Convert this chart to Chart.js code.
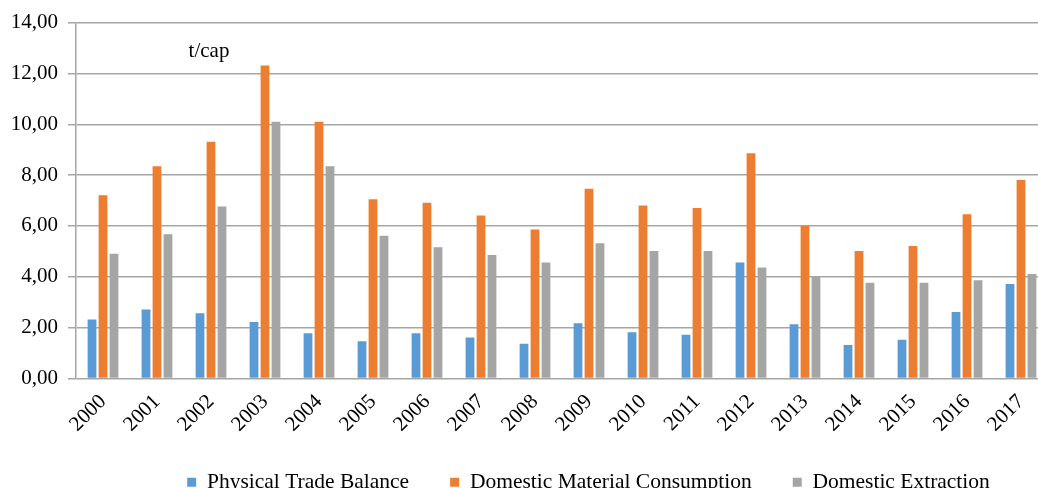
<!DOCTYPE html>
<html>
<head>
<meta charset="utf-8">
<script src="https://cdn.jsdelivr.net/npm/chart.js@4"></script>
<style>
  html, body { margin: 0; padding: 0; overflow: hidden; background: #fff; }
  #wrap { width: 1177px; height: 513px; }
</style>
</head>
<body>
<div id="wrap"><canvas id="chart" width="1177" height="513"></canvas></div>
<script>
const years = ['2000', '2001', '2002', '2003', '2004', '2005', '2006', '2007', '2008',
  '2009', '2010', '2011', '2012', '2013', '2014', '2015', '2016', '2017'];
const tradeBalance = [2.32, 2.71, 2.57, 2.22, 1.78, 1.47, 1.78, 1.61, 1.37,
  2.17, 1.82, 1.72, 4.56, 2.13, 1.32, 1.52, 2.62, 3.72];
const materialConsumption = [7.21, 8.35, 9.31, 12.31, 10.10, 7.05, 6.91, 6.41, 5.86,
  7.46, 6.81, 6.71, 8.86, 6.00, 5.02, 5.21, 6.46, 7.81];
const domesticExtraction = [4.91, 5.67, 6.77, 10.10, 8.35, 5.62, 5.16, 4.86, 4.56,
  5.32, 5.02, 5.02, 4.37, 4.00, 3.77, 3.77, 3.86, 4.11];
const seriesNames = ['Physical Trade Balance', 'Domestic Material Consumption', 'Domestic Extraction'];
const unitLabel = 't/cap';

const font = 'Liberation Serif, Times New Roman, serif';
const gridColor = '#a6a6a6';

// unit label inside the plot
const unitPlugin = {
  id: 'unitLabel',
  afterDraw(chart) {
    const ctx = chart.ctx;
    const y = chart.scales.y;
    ctx.save();
    ctx.font = '21px ' + font;
    ctx.fillStyle = '#000';
    ctx.textAlign = 'center';
    ctx.textBaseline = 'middle';
    ctx.fillText(unitLabel, chart.chartArea.left + 133, y.getPixelForValue(12.85));
    ctx.restore();
  }
};

// legend sits a bit higher, overlapping the empty space under the year labels
const legendShift = {
  id: 'legendShift',
  afterLayout(chart) {
    chart.legend.top -= 10;
    chart.legend.bottom -= 10;
  }
};

new Chart(document.getElementById('chart'), {
  type: 'bar',
  data: {
    labels: years,
    datasets: [
      { label: seriesNames[0], data: tradeBalance, backgroundColor: '#5B9BD5' },
      { label: seriesNames[1], data: materialConsumption, backgroundColor: '#ED7D31' },
      { label: seriesNames[2], data: domesticExtraction, backgroundColor: '#A5A5A5' }
    ]
  },
  options: {
    responsive: false,
    animation: false,
    categoryPercentage: 0.61,
    barPercentage: 0.8,
    layout: { padding: { top: 12, left: 0, right: 0, bottom: 0 } },
    plugins: {
      tooltip: { enabled: false },
      legend: {
        position: 'bottom',
        labels: {
          boxWidth: 9,
          boxHeight: 9,
          padding: 41,
          color: '#000',
          font: { family: font, size: 21.5 }
        }
      }
    },
    scales: {
      x: {
        grid: { display: false },
        border: { display: false },
        ticks: {
          minRotation: 45,
          maxRotation: 45,
          color: '#000',
          font: { family: font, size: 21 }
        },
        afterFit: s => { s.height = 62; }
      },
      y: {
        min: 0,
        max: 14,
        grid: { color: gridColor, lineWidth: 1.5, tickLength: 8 },
        border: { color: gridColor, width: 1.5 },
        ticks: {
          stepSize: 2,
          padding: 10,
          color: '#000',
          font: { family: font, size: 21 },
          callback: v => v.toFixed(2).replace('.', ',')
        },
        afterFit: s => { s.width = 76; }
      },
      yR: {
        position: 'right',
        grid: { display: false },
        border: { display: false },
        ticks: { display: false },
        afterFit: s => { s.width = 129; }
      }
    }
  },
  plugins: [unitPlugin, legendShift]
});
</script>
</body>
</html>
